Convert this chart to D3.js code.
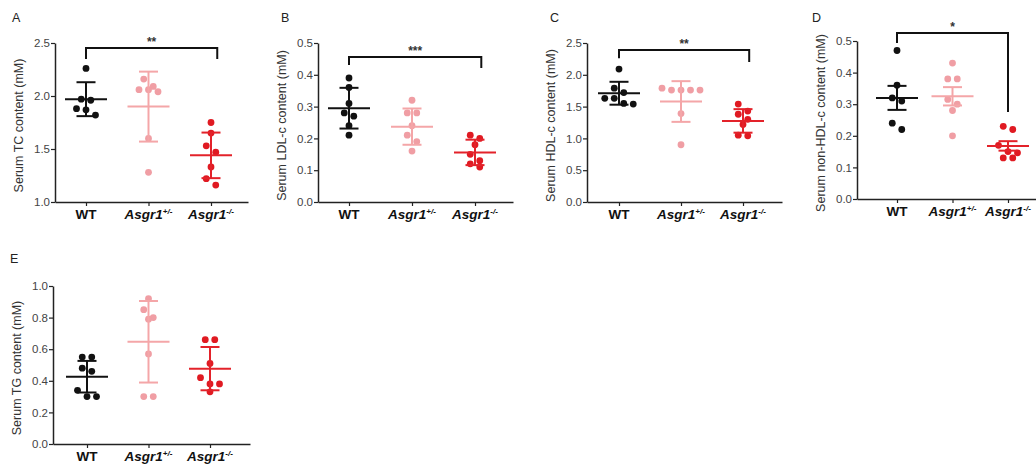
<!DOCTYPE html>
<html>
<head>
<meta charset="utf-8">
<script src="https://cdn.jsdelivr.net/npm/d3@7"></script>
<style>
  body { margin: 0; background: #fff; }
  svg { display: block; font-family: "Liberation Sans", Arial, sans-serif; }
</style>
</head>
<body>
<svg id="chart" width="1036" height="468"></svg>
<script>
// groups on every x axis
const groupNames = ['WT', 'Asgr1', 'Asgr1'];
const groupSup = ['', '+/-', '-/-'];
const groupColors = ['#111111', '#f09ea4', '#e01a22'];
const barColors = ['#111111', '#f4a6a8', '#e3222a'];

// A: serum TC (mM)
const tcValues = [
  [2.26, 1.97, 1.96, 1.88, 1.87, 1.82],
  [2.16, 2.09, 2.06, 2.06, 2.04, 1.60, 1.28],
  [1.75, 1.65, 1.53, 1.47, 1.33, 1.22, 1.16]
];
const tcMean = [1.97, 1.90, 1.44];
const tcErr = [0.16, 0.33, 0.215];

// B: serum LDL-c (mM)
const ldlValues = [
  [0.39, 0.36, 0.31, 0.28, 0.27, 0.24, 0.21],
  [0.32, 0.28, 0.28, 0.24, 0.21, 0.19, 0.16],
  [0.21, 0.20, 0.18, 0.15, 0.13, 0.12, 0.11]
];
const ldlMean = [0.295, 0.237, 0.156];
const ldlErr = [0.064, 0.057, 0.04];

// C: serum HDL-c (mM)
const hdlValues = [
  [2.09, 1.79, 1.72, 1.63, 1.63, 1.55, 1.54],
  [1.79, 1.76, 1.76, 1.76, 1.76, 1.39, 0.90],
  [1.54, 1.43, 1.38, 1.30, 1.22, 1.05, 1.04]
];
const hdlMean = [1.71, 1.58, 1.275];
const hdlErr = [0.18, 0.32, 0.185];

// D: serum non-HDL-c (mM), SEM bars
const nonHdlValues = [
  [0.47, 0.36, 0.32, 0.31, 0.24, 0.22],
  [0.43, 0.38, 0.38, 0.315, 0.30, 0.28, 0.20],
  [0.23, 0.22, 0.17, 0.15, 0.146, 0.13, 0.13]
];
const nonHdlMean = [0.32, 0.325, 0.168];
const nonHdlErr = [0.038, 0.029, 0.015];

// E: serum TG (mM)
const tgValues = [
  [0.55, 0.55, 0.48, 0.46, 0.34, 0.30, 0.30],
  [0.92, 0.85, 0.80, 0.79, 0.57, 0.30, 0.30],
  [0.66, 0.66, 0.51, 0.42, 0.38, 0.38, 0.33]
];
const tgMean = [0.426, 0.647, 0.477];
const tgErr = [0.10, 0.258, 0.137];

// y ticks
const tcTicks = [1.0, 1.5, 2.0, 2.5];
const ldlTicks = [0, 0.1, 0.2, 0.3, 0.4, 0.5];
const hdlTicks = [0, 0.5, 1.0, 1.5, 2.0, 2.5];
const tgTicks = [0, 0.2, 0.4, 0.6, 0.8, 1.0];

const panels = [
  { letter: 'A', lx: 12, ly: 22, title: 'Serum TC content (mM)', values: tcValues, mean: tcMean, err: tcErr,
    ticks: tcTicks, domain: [1, 2.5], x0: 55, top: 43, bottom: 202, off: 31, step: 62.5, len: 193,
    sig: { label: '**', to: 2.1, top: 2.453, left: 2.35, right: 2.35 } },
  { letter: 'B', lx: 281, ly: 22, title: 'Serum LDL-c content (mM)', values: ldlValues, mean: ldlMean, err: ldlErr,
    ticks: ldlTicks, domain: [0, 0.5], x0: 318, top: 43, bottom: 202, off: 31, step: 63, len: 195,
    sig: { label: '***', to: 2.1, top: 0.456, left: 0.431, right: 0.421 } },
  { letter: 'C', lx: 550, ly: 22, title: 'Serum HDL-c content (mM)', values: hdlValues, mean: hdlMean, err: hdlErr,
    ticks: hdlTicks, domain: [0, 2.5], x0: 587, top: 43, bottom: 202, off: 32, step: 62, len: 195,
    sig: { label: '**', to: 2.1, top: 2.39, left: 2.26, right: 2.2 } },
  { letter: 'D', lx: 812, ly: 22, title: 'Serum non-HDL-c content (mM)', values: nonHdlValues, mean: nonHdlMean, err: nonHdlErr,
    ticks: ldlTicks, domain: [0, 0.5], x0: 857, top: 41, bottom: 199, off: 40, step: 55.5, len: 190,
    sig: { label: '*', to: 2.0, top: 0.525, left: 0.494, right: 0.275 } },
  { letter: 'E', lx: 10, ly: 263, title: 'Serum TG content (mM)', values: tgValues, mean: tgMean, err: tgErr,
    ticks: tgTicks, domain: [0, 1], x0: 53, top: 286, bottom: 444, off: 34, step: 61.5, len: 197,
    sig: null }
];

const svg = d3.select('#chart');
const r = 3.4;

panels.forEach(p => {
  const g = svg.append('g');

  const y = d3.scaleLinear().domain(p.domain).range([p.bottom, p.top]);
  const x = d3.scaleLinear().domain([0, 2]).range([p.x0 + p.off, p.x0 + p.off + 2 * p.step]);
  x.domain([x.invert(p.x0), x.invert(p.x0 + p.len)]).range([p.x0, p.x0 + p.len]);

  // panel letter
  g.append('text')
    .attr('x', p.lx).attr('y', p.ly)
    .attr('font-size', 12.5).attr('fill', '#222')
    .text(p.letter);

  // y axis
  const yAxis = g.append('g')
    .attr('transform', `translate(${p.x0},0)`)
    .call(d3.axisLeft(y).tickValues(p.ticks).tickFormat(d3.format('.1f')).tickSize(4).tickSizeOuter(0));
  yAxis.select('.domain').attr('stroke', '#222').attr('stroke-width', 1.5);
  yAxis.selectAll('.tick line').attr('stroke', '#222').attr('stroke-width', 1.2);
  yAxis.selectAll('.tick text')
    .attr('font-family', '"Liberation Sans", Arial, sans-serif')
    .attr('font-size', 11.5).attr('fill', '#444').attr('x', -5);

  // y title
  g.append('text')
    .attr('transform', `translate(${p.x0 - 32},${(p.top + p.bottom) / 2 + 3}) rotate(-90)`)
    .attr('text-anchor', 'middle')
    .attr('font-size', 12.5).attr('fill', '#333')
    .text(p.title);

  // x axis
  const xAxis = g.append('g')
    .attr('transform', `translate(0,${p.bottom})`)
    .call(d3.axisBottom(x).tickValues([0, 1, 2]).tickSize(4).tickSizeOuter(0).tickFormat(''));
  xAxis.select('.domain').attr('stroke', '#222').attr('stroke-width', 1.5);
  xAxis.selectAll('.tick line').attr('stroke', '#222').attr('stroke-width', 1.2);

  const labels = g.selectAll('text.cat')
    .data(groupNames)
    .join('text')
    .attr('class', 'cat')
    .attr('x', (d, i) => x(i))
    .attr('y', p.bottom + 17)
    .attr('text-anchor', 'middle')
    .attr('font-size', 13.5).attr('font-weight', 'bold').attr('fill', '#111')
    .attr('font-style', (d, i) => i ? 'italic' : 'normal');
  labels.append('tspan').text(d => d);
  labels.filter((d, i) => i > 0)
    .append('tspan')
    .attr('dy', -5).attr('font-size', 8)
    .text((d, i) => groupSup[i + 1]);

  // points, laid out in rows like a scatter dot plot
  p.values.forEach((vals, gi) => {
    const sorted = vals.slice().sort((a, b) => b - a);
    const rows = [];
    sorted.forEach(v => {
      const py = y(v);
      const last = rows[rows.length - 1];
      if (last && py - last.y0 < 8) last.items.push(v);
      else rows.push({ y0: py, items: [v] });
    });
    const pts = [];
    rows.forEach(row => {
      const n = row.items.length;
      row.items.forEach((v, k) => pts.push({ v, dx: (k - (n - 1) / 2) * 9.5 }));
    });
    g.selectAll(null)
      .data(pts)
      .join('circle')
      .attr('cx', d => x(gi) + d.dx)
      .attr('cy', d => y(d.v))
      .attr('r', r)
      .attr('fill', groupColors[gi]);
  });

  // mean and error bars
  const bars = g.selectAll(null)
    .data(p.mean.map((m, i) => ({ m, e: p.err[i], i })))
    .join('g')
    .attr('stroke', d => barColors[d.i])
    .attr('stroke-width', 2);
  bars.append('line')
    .attr('x1', d => x(d.i) - 21).attr('x2', d => x(d.i) + 21)
    .attr('y1', d => y(d.m)).attr('y2', d => y(d.m));
  bars.append('line')
    .attr('x1', d => x(d.i)).attr('x2', d => x(d.i))
    .attr('y1', d => y(d.m - d.e)).attr('y2', d => y(d.m + d.e));
  bars.selectAll('line.cap')
    .data(d => [d.m - d.e, d.m + d.e].map(v => ({ v, i: d.i })))
    .join('line')
    .attr('class', 'cap')
    .attr('x1', d => x(d.i) - 9.5).attr('x2', d => x(d.i) + 9.5)
    .attr('y1', d => y(d.v)).attr('y2', d => y(d.v));

  // significance bracket
  if (p.sig) {
    const s = p.sig;
    const path = d3.path();
    path.moveTo(x(0), y(s.left));
    path.lineTo(x(0), y(s.top));
    path.lineTo(x(s.to), y(s.top));
    path.lineTo(x(s.to), y(s.right));
    g.append('path')
      .attr('d', path.toString())
      .attr('fill', 'none').attr('stroke', '#111').attr('stroke-width', 2);
    g.append('text')
      .attr('x', (x(0) + x(s.to)) / 2)
      .attr('y', y(s.top) - 2)
      .attr('text-anchor', 'middle')
      .attr('font-size', 12).attr('font-weight', 'bold').attr('fill', '#333')
      .text(s.label);
  }
});
</script>
</body>
</html>
